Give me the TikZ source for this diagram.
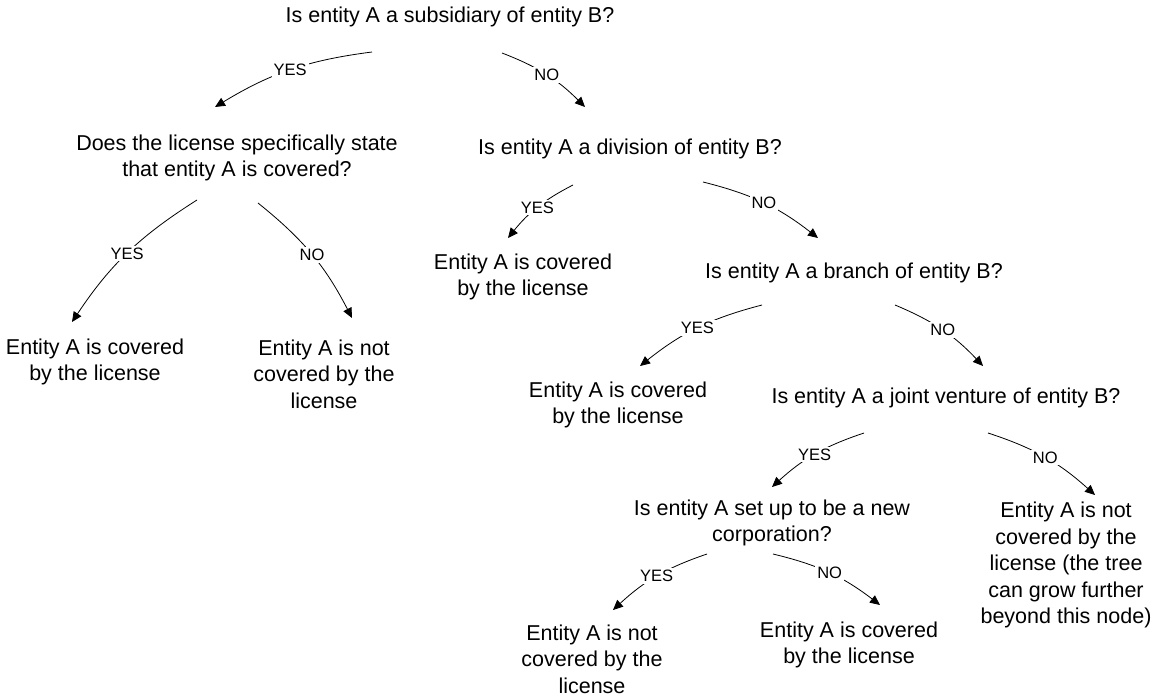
\documentclass[tikz,border=0pt]{standalone}
\usepackage{fontspec}
\setmainfont{Liberation Sans}
\usetikzlibrary{arrows.meta}
\begin{document}
\begin{tikzpicture}[x=1pt,y=-1pt,
  txt/.style={font=\fontsize{21.5}{26.5}\selectfont, align=center, inner sep=0pt},
  lbl/.style={font=\fontsize{16.5}{18}\selectfont, fill=white, inner sep=2pt},
  conn/.style={draw=black, line width=0.8pt, -{Triangle[length=10pt,width=9pt]}},
  yesedge/.style={conn, bend right=12},
  noedge/.style={conn, bend left=12}]
\useasboundingbox (0,0) rectangle (1156,696);

% nodes
\node[txt] (root) at (450,17) {Is entity A a subsidiary of entity B?};
\node[txt] (does) at (237,158) {Does the license specifically state\\that entity A is covered?};
\node[txt] (div) at (630,149) {Is entity A a division of entity B?};
\node[txt] (leafA) at (95,362) {Entity A is covered\\by the license};
\node[txt] (leafB) at (324,374) {Entity A is not\\covered by the\\license};
\node[txt] (leafC) at (523,277) {Entity A is covered\\by the license};
\node[txt] (branch) at (854,273) {Is entity A a branch of entity B?};
\node[txt] (leafD) at (618,405) {Entity A is covered\\by the license};
\node[txt] (jv) at (946,398) {Is entity A a joint venture of entity B?};
\node[txt] (setup) at (772,523) {Is entity A set up to be a new\\corporation?};
\node[txt] (leafE) at (1066,565) {Entity A is not\\covered by the\\license (the tree\\can grow further\\beyond this node)};
\node[txt] (leafF) at (592,659) {Entity A is not\\covered by the\\license};
\node[txt] (leafG) at (849,645) {Entity A is covered\\by the license};

% connector ends
\coordinate (rootY) at (372,52);   \coordinate (doesT) at (215,107);
\coordinate (rootN) at (502,53);   \coordinate (divT) at (585,107);
\coordinate (doesY) at (197,200);  \coordinate (leafAT) at (72,322);
\coordinate (doesN) at (258,203);  \coordinate (leafBT) at (352,318);
\coordinate (divY) at (573,185);   \coordinate (leafCT) at (508,238);
\coordinate (divN) at (703,182);   \coordinate (branchT) at (818,238);
\coordinate (branchY) at (762,305); \coordinate (leafDT) at (640,366);
\coordinate (branchN) at (895,305); \coordinate (jvT) at (983,366);
\coordinate (jvY) at (864,433);    \coordinate (setupT) at (772,487);
\coordinate (jvN) at (988,433);    \coordinate (leafET) at (1095,495);
\coordinate (setupY) at (707,554); \coordinate (leafFT) at (613,610);
\coordinate (setupN) at (773,554); \coordinate (leafGT) at (880,605);

% connectors
\draw[yesedge] (rootY) to node[lbl]{YES} (doesT);
\draw[noedge] (rootN) to node[lbl]{NO} (divT);
\draw[yesedge] (doesY) to node[lbl]{YES} (leafAT);
\draw[noedge] (doesN) to node[lbl]{NO} (leafBT);
\draw[yesedge] (divY) to node[lbl]{YES} (leafCT);
\draw[noedge] (divN) to node[lbl]{NO} (branchT);
\draw[yesedge] (branchY) to node[lbl]{YES} (leafDT);
\draw[noedge] (branchN) to node[lbl]{NO} (jvT);
\draw[yesedge] (jvY) to node[lbl]{YES} (setupT);
\draw[noedge] (jvN) to node[lbl]{NO} (leafET);
\draw[yesedge] (setupY) to node[lbl]{YES} (leafFT);
\draw[noedge] (setupN) to node[lbl]{NO} (leafGT);
\end{tikzpicture}
\end{document}
